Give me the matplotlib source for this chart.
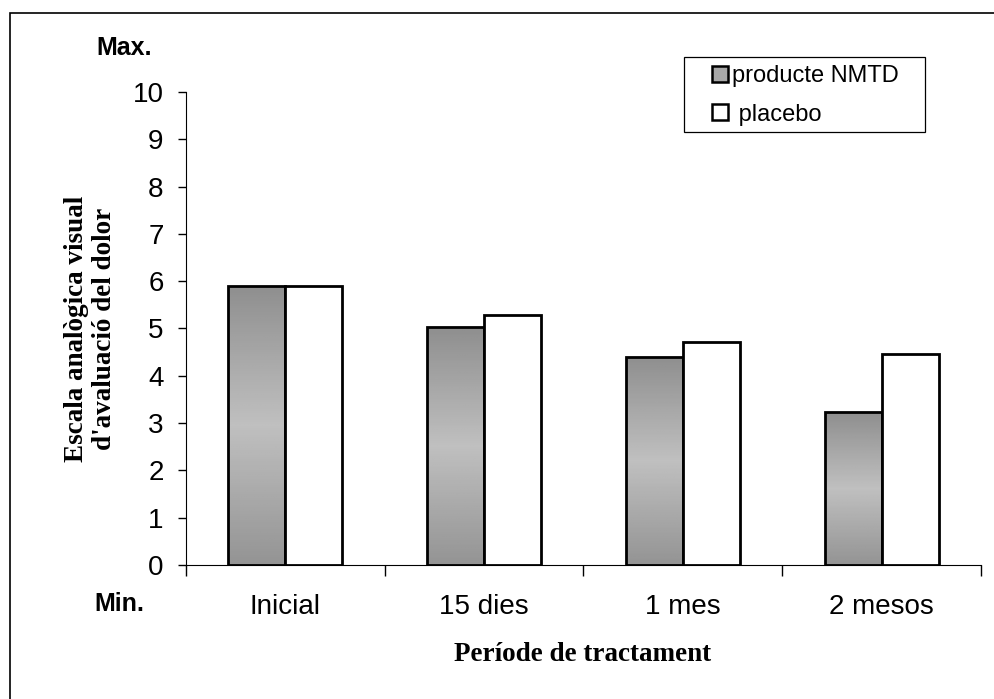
import numpy as np
import matplotlib.pyplot as plt
from matplotlib.patches import Rectangle

# Pain scores (visual analogue scale) per treatment period
periods = ["Inicial", "15 dies", "1 mes", "2 mesos"]
nmtd = [5.9, 5.03, 4.4, 3.23]
placebo = [5.9, 5.28, 4.71, 4.46]

plt.rcParams['font.family'] = ['Liberation Sans', 'DejaVu Sans']

fig = plt.figure(figsize=(9.94, 6.99), dpi=100)
ax = fig.add_axes([0.187, 0.1917, 0.800, 0.6767])

x = np.arange(len(periods))
width = 0.287

# Vertical grey gradient used to fill the product bars
grad = np.concatenate([np.linspace(0.56, 0.75, 64), np.linspace(0.75, 0.58, 64)])
grad = grad[:, None]

bars_n = ax.bar(x - width / 2, nmtd, width, color="none", edgecolor="black",
                linewidth=2.0, zorder=3, label="producte NMTD")
for b in bars_n:
    bx = b.get_x()
    im = ax.imshow(grad, cmap="gray", vmin=0, vmax=1, aspect="auto",
                   extent=[bx, bx + b.get_width(), 0, b.get_height()], zorder=2)
    im.set_clip_path(b)
bars_p = ax.bar(x + width / 2, placebo, width, color="white", edgecolor="black",
                linewidth=2.0, zorder=3, label=" placebo")

ax.set_xlim(-0.5, len(periods) - 0.5)
ax.set_ylim(0, 10)
ax.set_yticks(range(0, 11))
# tick marks between categories, labels under each category
ax.set_xticks(np.arange(len(periods) + 1) - 0.5)
ax.set_xticklabels([])
ax.set_xticks(x, minor=True)
ax.set_xticklabels(periods, minor=True)
ax.tick_params(axis="x", which="minor", length=0, pad=21, labelsize=20)
ax.tick_params(axis="x", which="major", length=8, width=1)
ax.tick_params(axis="y", labelsize=20, length=6, width=1, pad=10)
ax.spines["top"].set_visible(False)
ax.spines["right"].set_visible(False)

fig.text(0.097, 0.931, "Max.", fontsize=18, fontweight="bold", va="center")
fig.text(0.095, 0.136, "Min.", fontsize=18, fontweight="bold", va="center")
fig.text(0.091, 0.530, "Escala analògica visual\nd'avaluació del dolor",
         rotation=90, ha="center", va="center", fontsize=19.5,
         fontweight="bold", fontfamily="Liberation Serif", linespacing=1.2)
fig.text(0.586, 0.064, "Període de tractament", ha="center", va="center",
         fontsize=19.5, fontweight="bold", fontfamily="Liberation Serif")

leg = fig.legend(handles=[bars_n, bars_p], loc="upper left",
                 bbox_to_anchor=(0.716, 0.907), frameon=False, fontsize=17,
                 handlelength=0.68, handleheight=0.68, handletextpad=0.2,
                 borderpad=0, borderaxespad=0, labelspacing=0.7)
leg.legend_handles[0].set_facecolor("#a8a8a8")
leg.legend_handles[0].set_linewidth(1.8)
leg.legend_handles[1].set_linewidth(1.8)

# legend box and the outer frame around the chart
fig.patches.append(Rectangle((0.688, 0.811), 0.243, 0.107, transform=fig.transFigure,
                             fill=False, edgecolor="black", linewidth=0.9))
fig.patches.append(Rectangle((0.01, -0.1), 1.2, 1.082, transform=fig.transFigure,
                             fill=False, edgecolor="black", linewidth=1.2))

fig.savefig("out.png", dpi=100)
